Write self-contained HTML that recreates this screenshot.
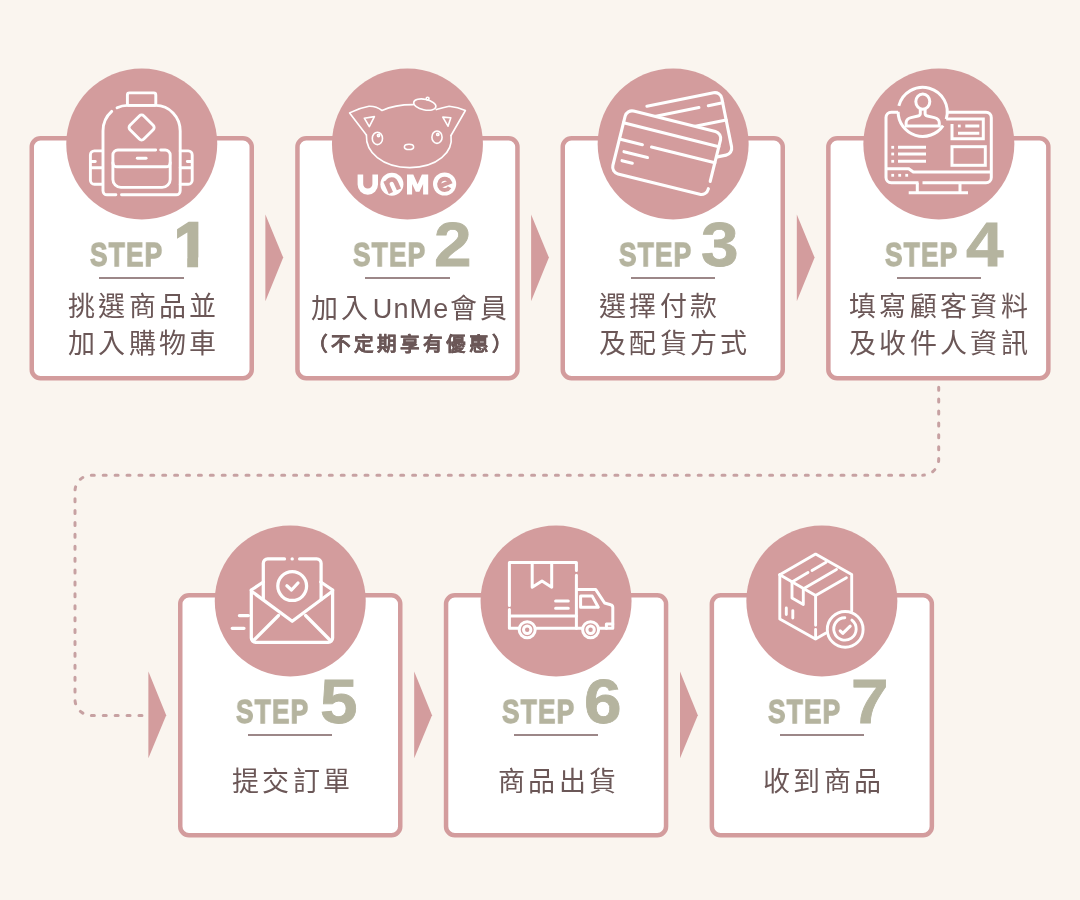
<!DOCTYPE html>
<html lang="zh-TW">
<head>
<meta charset="utf-8">
<style>
html,body{margin:0;padding:0;}
body{width:1080px;height:900px;overflow:hidden;background:#FAF5EF;position:relative;font-family:"Liberation Sans",sans-serif;}
svg.bg{position:absolute;left:0;top:0;}
.w{position:absolute;font-weight:bold;color:#B5B49F;font-size:34px;line-height:40px;-webkit-text-stroke:1.3px #B5B49F;will-change:transform;letter-spacing:1.6px;transform:scaleX(0.77);transform-origin:0 0;white-space:nowrap;}
.n{position:absolute;font-weight:bold;color:#B5B49F;-webkit-text-stroke:0.8px #B5B49F;will-change:transform;font-size:62.5px;line-height:70px;white-space:nowrap;transform:scaleX(1.08);transform-origin:0 0;}
.ul{position:absolute;width:84.5px;height:2px;background:#9C8788;}
.t{position:absolute;color:#6B5757;font-size:27px;letter-spacing:3.35px;line-height:37px;white-space:nowrap;will-change:transform;}
.s{position:absolute;will-change:transform;color:#6B5757;font-size:19.6px;font-weight:bold;-webkit-text-stroke:0.2px #6B5757;letter-spacing:3.0px;line-height:26px;white-space:nowrap;}
</style>
</head>
<body>
<svg class="bg" width="1080" height="900" viewBox="0 0 1080 900">
<!-- dotted path -->
<g fill="none" stroke="#C7A1A2" stroke-width="3" stroke-linecap="round">
<path d="M938.7,386.7 V459.2 A16,16 0 0 1 922.7,475.2" stroke-dasharray="3 8.9" stroke-dashoffset="-0.5"/>
<path d="M922.7,475.2 H91 A16,16 0 0 0 75,491.2 V699.4 A16,16 0 0 0 91,715.4 H143" stroke-dasharray="3 8.9" stroke-dashoffset="4.6"/>
</g>
<!-- arrows -->
<g fill="#D39C9D">
<polygon points="265.4,214.4 283.2,257.6 265.4,301.3"/>
<polygon points="531.1,214.4 548.9,257.6 531.1,301.3"/>
<polygon points="796.8,214.4 814.6,257.6 796.8,301.3"/>
<polygon points="148.4,671.6 166.2,715.2 148.4,758.3"/>
<polygon points="414.2,671.6 432,715.2 414.2,758.3"/>
<polygon points="680,671.6 697.8,715.2 680,758.3"/>
</g>
<!-- cards -->
<g fill="#FFFFFF" stroke="#D39C9D" stroke-width="4.5">
<rect x="31.75" y="138.25" width="220" height="240" rx="8.75"/>
<rect x="297.45" y="138.25" width="220" height="240" rx="8.75"/>
<rect x="562.75" y="138.25" width="220" height="240" rx="8.75"/>
<rect x="828.35" y="138.25" width="220" height="240" rx="8.75"/>
<rect x="180.25" y="595.25" width="220" height="240" rx="8.75"/>
<rect x="446.05" y="595.25" width="220" height="240" rx="8.75"/>
<rect x="711.85" y="595.25" width="220" height="240" rx="8.75"/>
</g>
<!-- circles -->
<g fill="#D39C9D">
<circle cx="141.75" cy="144" r="75.5"/>
<circle cx="407.45" cy="144" r="75.5"/>
<circle cx="673.15" cy="144" r="75.5"/>
<circle cx="938.85" cy="144" r="75.5"/>
<circle cx="290.25" cy="601" r="75.5"/>
<circle cx="556.05" cy="601" r="75.5"/>
<circle cx="821.85" cy="601" r="75.5"/>
</g>
<!-- ICON 1 backpack -->
<g fill="none" stroke="#FFFFFF" stroke-width="2.9" stroke-linecap="round" stroke-linejoin="round">
<rect x="127.4" y="92.9" width="28.4" height="12.5" rx="2"/>
<path d="M121.5,194.8 H176.2 A4,4 0 0 0 180.2,190.8 V131 A24.4,25.6 0 0 0 155.8,105.4 H127.4 A24.4,25.6 0 0 0 117.09,107.8 M111.72,111.39 A24.4,25.6 0 0 0 103,131 V190.8 A4,4 0 0 0 107,194.8 H115.9"/>
<rect x="-9.8" y="-9.8" width="19.6" height="19.6" rx="3.2" transform="translate(141.6,127.5) rotate(45)"/>
<path d="M155.7,150 H117.9 A5,5 0 0 0 112.9,155 V179.4 A8,8 0 0 0 120.9,187.4 H162.2 A8,8 0 0 0 170.2,179.4 V155 A5,5 0 0 0 165.2,150 H160.7"/>
<path d="M112.9,162.8 A4,4 0 0 0 116.9,166.8 H166.2 A4,4 0 0 0 170.2,162.8"/>
<path d="M137.3,158.3 H146.1"/>
<path d="M102.4,150.9 H94.4 A4,4 0 0 0 90.4,154.9 V180.2 A4,4 0 0 0 94.4,184.2 H102.4 M90.4,161.5 H95.3 M90.4,167.8 H102.4"/>
<path d="M180.2,150.9 H188.2 A4,4 0 0 1 192.2,154.9 V180.2 A4,4 0 0 1 188.2,184.2 H180.2 M192.2,161.5 H187.3 M192.2,167.8 H180.2"/>
</g>

<!-- ICON 2 UnMe pig -->
<g fill="none" stroke="#FFFFFF" stroke-width="1.6" stroke-linecap="round" stroke-linejoin="round">
<path d="M366.4,135 L349.6,112.9 Q359,108 369,106.3 Q376,106 382,110.5 Q395,104.5 413.5,104.6"/>
<path d="M436.3,109.6 Q443,107.5 449.2,106.2 Q458,107 465.4,110.5 L451,135.5"/>
<path d="M366.4,135 C365.5,152 382,167.6 409.8,167.6 C437.5,167.6 453.5,152 451,135.5"/>
<ellipse cx="0" cy="0" rx="11.3" ry="5.3" transform="translate(424.8,104.6) rotate(12)"/>
<circle cx="427.6" cy="98.6" r="1.4"/>
<path d="M364.3,118.2 L374.4,116.6 L369.3,126.6 Z"/>
<path d="M442.8,117.1 L450.8,117.7 L448,126.2 Z"/>
<ellipse cx="377.4" cy="138.4" rx="5.1" ry="6.2"/>
<ellipse cx="437" cy="137.2" rx="5.1" ry="6.2"/>
<circle cx="378.5" cy="135.5" r="1.1"/>
<circle cx="437.8" cy="134.4" r="1.1"/>
<ellipse cx="409" cy="146.9" rx="4.6" ry="2.6"/>
</g>
<g fill="#FFFFFF">
<path d="M357.6,174.6 H363.2 V184 A4.6,4.6 0 0 0 372.4,184 V174.6 H378 V184.5 A10.2,10.2 0 0 1 357.6,184.5 Z"/>
<circle cx="391.9" cy="184.2" r="11.5"/>
<path d="M407,194.6 V174.6 H413.3 L417.6,184.3 L421.9,174.6 H428.2 V194.6 H423.1 V184 L419.4,191.8 H415.8 L412.1,184 V194.6 Z"/>
<circle cx="444.6" cy="184" r="11.6"/>
</g>
<g fill="none" stroke="#D39C9D" stroke-linecap="butt">
<path d="M-4.4,7.2 V-6.2 M-4.4,-0.8 A4.4,4.4 0 0 1 4.4,-0.8 V7.2" stroke-width="4.6" transform="translate(392,184.6) rotate(-24)"/>
<path d="M-5.6,0.3 H5.6 A5.6,5.6 0 1 0 3.4,4.8" stroke-width="4" transform="translate(444.6,184) rotate(-22)"/>
</g>
<!-- ICON 3 credit cards -->
<g fill="none" stroke="#FFFFFF" stroke-width="3.1" stroke-linecap="round" stroke-linejoin="round">
<g transform="translate(678.5,132.3) rotate(-11.4)">
<path d="M-25.8,-31.8 H42.15 A7,7 0 0 1 49.15,-24.8 V24.8 A7,7 0 0 1 42.15,31.8 H-42.15"/>
<path d="M-49.15,-20.2 H24.9 M34.5,-20.2 H49.15 M-49.15,-2.6 H49.15"/>
</g>
<g transform="translate(666.7,152.7) rotate(14)">
<rect x="-49.15" y="-32.35" width="98.3" height="64.7" rx="7" fill="#D39C9D" stroke="none"/>
<path d="M-42.15,-32.35 H42.15 A7,7 0 0 1 49.15,-25.35 V17.3 M49.15,24.8 V25.35 A7,7 0 0 1 42.15,32.35 H-42.15 A7,7 0 0 1 -49.15,25.35 V-25.35 A7,7 0 0 1 -42.15,-32.35"/>
<path d="M-49.15,-18.5 H49.15 M-49.15,-1.85 H-25.5 M-16.1,-1.85 H49.15 M-41.7,9.35 H-17.5 M-41.4,18.55 H-30.8"/>
</g>
</g>
<!-- ICON 4 computer -->
<g fill="none" stroke="#FFFFFF" stroke-width="3" stroke-linecap="butt" stroke-linejoin="miter">
<path d="M898.1,112.2 H891.3 A5.3,5.3 0 0 0 886,117.5 V177.4 A5.3,5.3 0 0 0 891.3,182.7 H918.5 M922.5,182.7 H986 A5.3,5.3 0 0 0 991.3,177.4 V117.7 A5.3,5.3 0 0 0 986,112.2 H947.3"/>
<path d="M886,168.7 H908.7 L913.3,172 H991.3"/>
<path d="M917.3,182.7 V192.7 M960,182.7 V192.7 M908.7,192.7 H968"/>
<path d="M898.83,105.85 A24.6,24.6 0 1 1 946.19,119.12 M898.10,111.80 A24.6,24.6 0 0 0 943.09,125.56"/>
<ellipse cx="922.8" cy="101.6" rx="7" ry="7.6"/>
<path d="M920.3,109.2 V113.5 Q920.3,115.5 918,116 L911,117.6 Q906.1,118.8 906.1,123 V126.1 H939.3 V123 Q939.3,118.8 934.4,117.6 L927.4,116 Q925.1,115.5 925.1,113.5 V109.2"/>
<path d="M946.2,119.1 H983.3 V138.7 H952 V124"/>
<path d="M965.3,126 H979.3 M958,133.3 H979.3"/>
<rect x="952" y="146.7" width="33.3" height="18.6"/>
<path d="M898,147.3 H926 M898,154 H926 M898,161.3 H926"/>
</g>
<g fill="#FFFFFF">
<rect x="957.9" y="124.6" width="2.8" height="2.8"/>
<rect x="891.3" y="145.9" width="2.8" height="2.8"/>
<rect x="891.3" y="152.6" width="2.8" height="2.8"/>
<rect x="891.3" y="159.9" width="2.8" height="2.8"/>
<rect x="891.3" y="173.9" width="2.8" height="2.8"/>
<rect x="898.3" y="173.9" width="2.8" height="2.8"/>
<rect x="905.3" y="173.9" width="2.8" height="2.8"/>
</g>
<!-- ICON 5 envelope -->
<g fill="none" stroke="#FFFFFF" stroke-width="3.25" stroke-linecap="round" stroke-linejoin="round">
<path d="M251.3,590 V638 A4.4,4.4 0 0 0 255.7,642.4 H328.2 A4.4,4.4 0 0 0 332.6,638 V590"/>
<path d="M263.3,582 L251.3,590 M320.8,582 L332.6,590"/>
<path d="M252.5,592 L292.2,621.3 L331.4,592"/>
<path d="M253.5,640.5 L278.5,615.5 M330.4,640.5 L305.6,615.5"/>
<path d="M263.3,599.5 V563.3 A4.4,4.4 0 0 1 267.7,558.9 H284.5 M299.6,558.9 H316.7 A4.4,4.4 0 0 1 321.1,563.3 V599.5"/>
<circle cx="292.2" cy="586.1" r="14.4"/>
<path d="M286.9,585.8 L291.5,590 L298,583"/>
<path d="M239.4,615.6 H248.4 M232.2,628.3 H244"/>
</g>
<circle cx="292.2" cy="558.9" r="1.7" fill="#FFFFFF"/>
<!-- ICON 6 truck -->
<g fill="none" stroke="#FFFFFF" stroke-width="3" stroke-linecap="round" stroke-linejoin="round">
<path d="M509.4,605.6 V562.6 H576.4 V570.4 M576.4,575.2 V628.3"/>
<path d="M509.4,615.9 H576.4"/>
<path d="M509.4,609.6 V628.3 H518.4 M536.2,628.3 H581.8 M599.6,628.3 H612.8 V607.4 A2.8,2.8 0 0 0 610.6,604.7 L604.6,603 L595.6,589.4 H576.4"/>
<path d="M580.6,596.1 H592.2 L598.3,607.2 H580.6 Z"/>
<path d="M612.8,623.9 H606.4 V628.3"/>
<path d="M532.2,562.6 V587.2 L542,581.1 L551.7,587.2 V562.6"/>
<path d="M555.6,600.9 H568.3 M555.6,608.3 H568.3"/>
<circle cx="527.2" cy="629.7" r="8"/>
<circle cx="527.2" cy="629.7" r="3.7"/>
<circle cx="590.6" cy="629.7" r="8"/>
<circle cx="590.6" cy="629.7" r="3.7"/>
</g>
<!-- ICON 7 box -->
<g fill="none" stroke="#FFFFFF" stroke-width="2.9" stroke-linecap="round" stroke-linejoin="round">
<path d="M779.8,574.8 L815.6,554.1 L851.7,574.4 V611"/>
<path d="M779.8,574.8 L815.6,595.6 L846.4,577.8"/>
<path d="M779.8,574.8 V619.1 L815.5,638.9 L826,633"/>
<path d="M815.6,595.6 V625.3 M815.6,629.4 V638.9"/>
<path d="M792,581.9 L808,572.6 M812,570.4 L826.1,562.2 M803.9,588.5 L836.5,569.6"/>
<path d="M792,581.9 V598.1 L803.3,604.6 V588.5"/>
<path d="M786.3,608 V614.6 M792.8,610.6 V618"/>
<circle cx="845.2" cy="629.4" r="17.9" fill="#D39C9D"/>
<path d="M851.9,620.1 A11.2,11.2 0 1 1 844.8,617.7"/>
<path d="M840.2,630.9 L842.8,633.3 L850.2,626.2" stroke-width="3.1"/>
</g>
</svg>

<!-- text -->
<div class="w" style="left:90px;top:234px;">STEP</div><div class="n" style="left:173.5px;top:209px;transform:none;-webkit-text-stroke:2.4px #B5B49F;clip-path:polygon(0 0,100% 0,100% 48.6px,24.1px 48.6px,24.1px 100%,13.2px 100%,13.2px 48.6px,0 48.6px);">1</div>
<div class="w" style="left:353px;top:234px;">STEP</div><div class="n" style="left:434px;top:208.5px;">2</div>
<div class="w" style="left:619px;top:234px;">STEP</div><div class="n" style="left:701px;top:208.5px;">3</div>
<div class="w" style="left:885px;top:234px;">STEP</div><div class="n" style="left:966px;top:208.5px;">4</div>
<div class="w" style="left:236px;top:691px;">STEP</div><div class="n" style="left:320px;top:665.5px;">5</div>
<div class="w" style="left:502px;top:691px;">STEP</div><div class="n" style="left:584px;top:665.5px;">6</div>
<div class="w" style="left:768px;top:691px;">STEP</div><div class="n" style="left:851px;top:665.5px;">7</div>
<div class="ul" style="left:99.4px;top:276.7px;"></div>
<div class="ul" style="left:365.1px;top:276.7px;"></div>
<div class="ul" style="left:630.8px;top:276.7px;"></div>
<div class="ul" style="left:896.5px;top:276.7px;"></div>
<div class="ul" style="left:247.9px;top:733.6px;"></div>
<div class="ul" style="left:513.7px;top:733.6px;"></div>
<div class="ul" style="left:779.5px;top:733.6px;"></div>
<div class="t" style="left:68px;top:289px;">挑選商品並<br>加入購物車</div>
<div class="t" style="left:311px;top:291px;">加入<span style="margin-left:1px;letter-spacing:1.2px;">UnMe</span>會員</div>
<div class="s" style="left:308.3px;top:330.6px;">（不定期享有優惠）</div>
<div class="t" style="left:599px;top:289px;">選擇付款<br>及配貨方式</div>
<div class="t" style="left:849px;top:289px;">填寫顧客資料<br>及收件人資訊</div>
<div class="t" style="left:232px;top:764px;">提交訂單</div>
<div class="t" style="left:498px;top:764px;">商品出貨</div>
<div class="t" style="left:763.3px;top:764px;">收到商品</div>
</body>
</html>
